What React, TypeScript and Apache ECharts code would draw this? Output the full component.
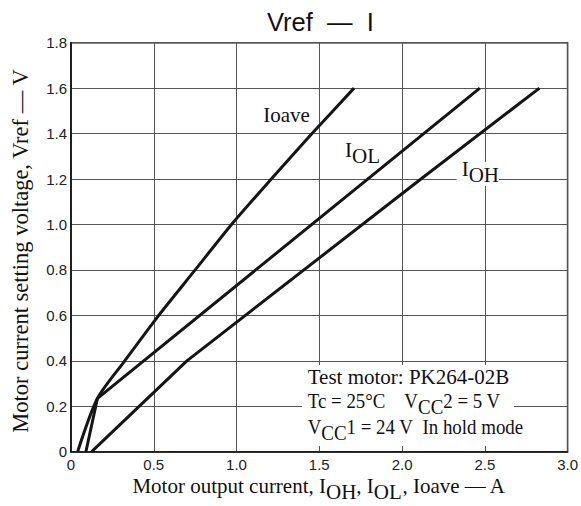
import React, { useEffect, useRef } from "react";
import * as echarts from "echarts";

// Data (x: current in A, y: Vref in V)
const ioave: [number, number][] = [
  [0.04, 0], [0.16, 0.235], [0.325, 0.4], [0.53, 0.6], [0.75, 0.8],
  [0.97, 1.0], [1.21, 1.2], [1.456, 1.4], [1.71, 1.6],
];
const iol: [number, number][] = [
  [0.09, 0], [0.16, 0.235], [1.116, 0.8], [2.47, 1.6],
];
const ioh: [number, number][] = [
  [0.125, 0], [0.7, 0.4], [2.114, 1.2], [2.83, 1.6],
];
const xTicks = { min: 0, max: 3.0, interval: 0.5 };
const yTicks = { min: 0, max: 1.8, interval: 0.2 };

const titleText = "Vref\u00A0\u00A0—\u00A0\u00A0I";
const yName = "Motor current setting voltage, Vref — V";
const xNameParts = ["Motor output current, I", "OH", ", I", "OL", ", Ioave — A"];
const noteLine1 = "Test motor: PK264-02B";
const noteLine2 = ["Tc = 25°C\u00A0\u00A0\u00A0\u00A0V", "CC", "2 = 5 V"];
const noteLine3 = ["V", "CC", "1 = 24 V\u00A0\u00A0In hold mode"];

const SERIF = "'Liberation Serif', 'Times New Roman', serif";
const SANS = "'Liberation Sans', Arial, sans-serif";
const FS = 21;

const rich = {
  n: { fontFamily: SERIF, fontSize: FS, verticalAlign: "top", lineHeight: FS, fill: "#111" },
  s: { fontFamily: SERIF, fontSize: FS, verticalAlign: "top", lineHeight: FS, padding: [6, 0, 0, 0], fill: "#111" },
};

const subText = (parts: string[]) =>
  parts.map((p, i) => (i % 2 === 0 ? `{n|${p}}` : `{s|${p}}`)).join("");

const whiteRect = (x: number, y: number, width: number, height: number) => ({
  type: "rect", z: 1, shape: { x, y, width, height }, style: { fill: "#fff" }, silent: true,
});

export default function App() {
  const ref = useRef<HTMLDivElement>(null);
  useEffect(() => {
    if (!ref.current) return;
    const chart = echarts.init(ref.current, undefined, { renderer: "svg" });
    const lineSeries = (name: string, data: [number, number][], smooth: number | boolean) => ({
      name,
      type: "line",
      data,
      symbol: "none",
      smooth,
      lineStyle: { color: "#151515", width: 3 },
      z: 3,
    });
    const axisLabel = { fontFamily: SANS, fontSize: 15, color: "#222" };
    chart.setOption({
      animation: false,
      backgroundColor: "#fff",
      grid: {
        left: 71, right: 9, top: 42.7, bottom: 54.3,
        show: true, borderColor: "#111", borderWidth: 1.5, backgroundColor: "transparent",
      },
      xAxis: {
        type: "value",
        ...xTicks,
        axisLine: { show: true, lineStyle: { color: "#111", width: 1.5 } },
        axisTick: { show: false },
        splitLine: { show: true, lineStyle: { color: "#555", width: 1 } },
        axisLabel: { ...axisLabel, margin: 5, formatter: (v: number) => (v === 0 ? "0" : v.toFixed(1)) },
      },
      yAxis: {
        type: "value",
        ...yTicks,
        axisLine: { show: true, lineStyle: { color: "#111", width: 1.5 } },
        axisTick: { show: false },
        splitLine: { show: true, lineStyle: { color: "#555", width: 1 } },
        axisLabel: { ...axisLabel, margin: 4, formatter: (v: number) => (v === 0 ? "0" : v.toFixed(1)) },
      },
      series: [
        lineSeries("Ioave", ioave, 0.25),
        lineSeries("IOL", iol, false),
        lineSeries("IOH", ioh, false),
      ],
      graphic: [
        whiteRect(303, 365, 211, 27),
        whiteRect(302, 392, 212, 28),
        whiteRect(303, 420, 225, 26),
        whiteRect(456.5, 162, 42.5, 24),
        {
          type: "text", x: 320.4, y: 22, z: 100,
          style: { text: titleText, fontFamily: SANS, fontSize: 25.5, fill: "#111", align: "center", verticalAlign: "middle" },
        },
        {
          type: "text", x: 20, y: 251, rotation: Math.PI / 2, z: 100,
          style: { text: yName, fontFamily: SERIF, fontSize: 22.5, fill: "#111", align: "center", verticalAlign: "middle" },
        },
        {
          type: "text", x: 319, y: 475.5, z: 100,
          style: { text: subText(xNameParts), rich, align: "center", verticalAlign: "top", fontFamily: SERIF, fontSize: FS },
        },
        {
          type: "text", x: 263.3, y: 104.5, z: 100,
          style: { text: "{n|Ioave}", rich, align: "left", verticalAlign: "top" },
        },
        {
          type: "text", x: 345, y: 139, z: 100,
          style: { text: subText(["I", "OL"]), rich, align: "left", verticalAlign: "top" },
        },
        {
          type: "text", x: 461.7, y: 158, z: 100,
          style: { text: subText(["I", "OH"]), rich, align: "left", verticalAlign: "top" },
        },
        {
          type: "text", x: 307.7, y: 366, z: 100,
          style: { text: `{n|${noteLine1}}`, rich, align: "left", verticalAlign: "top" },
        },
        {
          type: "text", x: 307.7, y: 390.5, z: 100, scaleX: 0.9,
          style: { text: subText(noteLine2), rich, align: "left", verticalAlign: "top" },
        },
        {
          type: "text", x: 307.7, y: 416.5, z: 100, scaleX: 0.9,
          style: { text: subText(noteLine3), rich, align: "left", verticalAlign: "top" },
        },
      ],
    });
    return () => chart.dispose();
  }, []);
  return <div ref={ref} style={{ width: 581, height: 506, position: "absolute", left: 0, top: 0 }} />;
}
